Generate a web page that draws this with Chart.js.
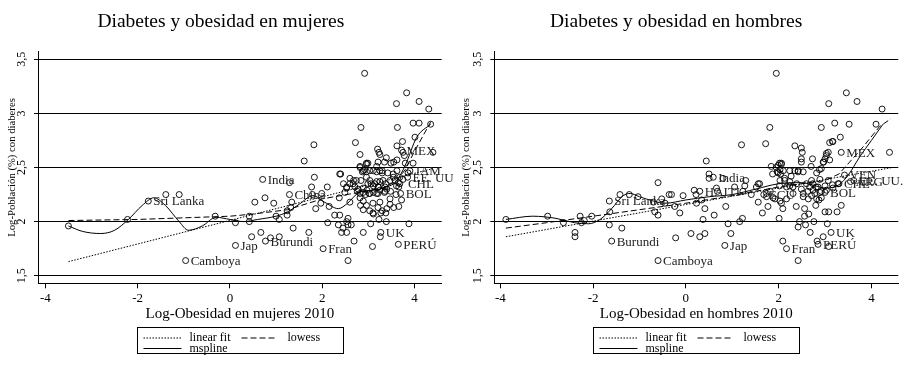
<!DOCTYPE html>
<html>
<head>
<meta charset="utf-8">
<script src="https://cdn.jsdelivr.net/npm/chart.js@4.4.0/dist/chart.umd.min.js"></script>
<style>
  body { margin: 0; background: #fff; }
  #wrap { position: relative; width: 909px; height: 368px; }
  #wrap canvas { position: absolute; top: 0; }
  #left { left: 0; }
  #right { left: 454px; }
</style>
</head>
<body>
<div id="wrap">
  <canvas id="left" width="454" height="368"></canvas>
  <canvas id="right" width="455" height="368"></canvas>
</div>
<script>
// ejes
const xTicks = [-4, -2, 0, 2, 4];
const yTicks = [1.5, 2, 2.5, 3, 3.5];
const yTickText = ['1,5', '2', '2,5', '3', '3,5'];
const yTitle = 'Log-Población (%) con diaberes';
const legendNames = ['linear fit', 'lowess', 'mspline'];

// mujeres: puntos (log-obesidad, log-diabetes)
const womenX = [-3.5,-2.22,-1.77,-1.39,-1.10,-0.32,-0.96,0.12,0.12,0.42,0.42,0.47,0.54,0.67,0.71,0.76,0.77,0.88,1.00,0.95,1.07,1.07,1.24,1.24,1.29,1.29,1.34,1.37,1.32,1.61,1.82,1.83,1.77,1.79,1.71,1.86,1.97,1.99,2.11,2.15,2.12,2.02,2.27,2.38,2.37,2.40,2.35,2.42,2.45,2.53,2.53,2.56,2.56,2.63,2.56,2.53,2.49,2.60,2.60,2.69,2.72,2.68,2.71,2.76,2.82,2.84,2.87,2.84,2.89,2.83,2.89,2.89,2.92,2.96,2.99,2.96,2.97,2.99,3.02,3.05,3.09,3.10,3.10,3.14,3.18,3.21,3.21,3.20,3.23,3.21,3.23,3.25,3.26,3.27,3.27,3.30,3.36,3.36,3.39,3.38,3.39,3.42,3.47,3.48,3.49,3.54,3.61,3.63,3.62,3.62,3.65,3.66,3.66,3.68,3.70,3.72,3.74,3.75,3.78,3.83,3.86,3.88,3.97,3.97,4.01,4.10,4.10,4.31,4.35,4.40,
  2.82,2.89,2.92,2.96,3.03,3.11,3.18,3.25,3.30,2.96,3.03,3.06,3.11,3.18,3.22,3.25,3.32,3.38,3.47,3.54,3.58,3.61,3.65,3.68,3.75,2.78,2.82,2.89,2.94,3.03,3.11,3.18,3.25,3.35,3.40,2.74,2.67,2.60,2.53,2.46,2.38,2.82,2.89,2.96,3.03,3.11,3.21,3.30,3.40,3.47,3.55,3.60,2.82,3.25,3.35,3.55,3.62,3.72,3.80,3.90,3.85];
const womenY = [1.96,2.02,2.19,2.25,2.25,2.05,1.64,1.99,1.78,2.00,2.05,1.86,2.18,1.90,2.39,2.22,1.82,1.85,2.05,2.17,1.86,2.02,2.06,2.10,2.25,2.36,2.18,1.94,2.13,2.56,2.71,2.41,2.32,2.25,1.90,2.12,2.17,2.26,2.32,2.14,1.99,1.75,2.06,2.06,2.22,2.44,1.97,1.90,1.94,1.90,2.00,1.97,2.03,1.97,1.64,2.31,2.27,2.35,2.18,1.82,2.73,2.38,2.32,2.28,2.51,2.87,2.46,2.38,2.31,2.15,2.11,1.90,3.37,2.54,2.54,2.46,2.29,2.35,2.26,1.98,1.77,2.08,2.17,2.35,2.46,2.32,2.26,2.67,2.64,2.55,2.02,2.18,1.86,1.90,2.08,2.45,2.32,2.28,2.59,2.08,2.00,2.45,2.21,2.28,2.54,2.41,3.09,2.87,2.70,2.57,1.79,2.14,2.32,2.41,2.26,2.20,2.74,2.64,2.61,3.19,2.45,1.98,2.91,2.54,2.78,2.91,3.11,3.04,2.90,2.64,
  2.50,2.47,2.48,2.53,2.47,2.47,2.51,2.47,2.47,2.41,2.38,2.35,2.33,2.37,2.32,2.37,2.38,2.35,2.38,2.44,2.38,2.33,2.36,2.35,2.39,2.30,2.26,2.27,2.25,2.26,2.27,2.26,2.29,2.27,2.30,2.38,2.35,2.40,2.32,2.35,2.44,2.22,2.19,2.15,2.10,2.07,2.13,2.10,2.12,2.16,2.13,2.25,2.62,2.62,2.55,2.55,2.47,2.66,2.54,2.47,2.41];

// mujeres: curvas ajustadas
const womenLinX = [-3.5, 4.4];
const womenLinY = [1.63, 2.49];
const womenLowX = [-3.5, -2, -1, 0, 0.5, 1.25, 2, 2.8, 3.3, 3.6, 3.8, 4.0, 4.35];
const womenLowY = [2.01, 2.02, 2.035, 2.05, 2.07, 2.11, 2.21, 2.27, 2.31, 2.37, 2.48, 2.65, 2.92];
const womenSplX = [-3.5, -3.2, -2.8, -2.5, -2.2, -1.9, -1.65, -1.4, -1.1, -0.9, -0.6, -0.3, 0, 0.3, 0.6, 1.0, 1.25, 1.5, 1.8, 2.05, 2.35, 2.55, 2.8, 3.1, 3.4, 3.6, 3.8, 4.05, 4.35];
const womenSplY = [1.96, 1.91, 1.89, 1.92, 2.02, 2.15, 2.22, 2.15, 2.00, 1.92, 1.96, 2.04, 2.02, 2.00, 2.02, 2.05, 2.09, 2.16, 2.24, 2.18, 2.12, 2.17, 2.27, 2.29, 2.32, 2.37, 2.52, 2.78, 2.90];

// mujeres: etiquetas de países
const womenLabelNames = ['Sri Lanka', 'India', 'China', 'Jap', 'Burundi', 'Camboya', 'Fran', 'UK', 'PERÚ', 'BOL', 'CHL', 'EE. UU.', 'JAM', 'MEX'];
const womenLabelX = [-1.77, 0.71, 1.29, 0.12, 0.77, -0.96, 2.02, 3.27, 3.65, 3.70, 3.75, 3.85, 3.90, 3.72];
const womenLabelY = [2.19, 2.39, 2.25, 1.78, 1.82, 1.64, 1.75, 1.90, 1.79, 2.26, 2.35, 2.41, 2.47, 2.66];

// hombres: puntos
const menX = [-3.88,-2.98,-2.64,-2.39,-2.39,-2.28,-2.25,-2.19,-2.03,-1.65,-1.64,-1.65,-1.60,-1.42,-1.38,-1.22,-1.03,-0.70,-0.67,-0.60,-0.60,-0.60,-0.52,-0.45,-0.36,-0.31,-0.24,-0.22,-0.13,-0.06,0.11,0.18,0.22,0.23,0.30,0.34,0.37,0.41,0.41,0.44,0.50,0.50,0.59,0.61,0.66,0.30,0.68,0.80,0.84,0.86,0.91,0.97,1.05,1.20,1.16,1.22,1.23,1.27,1.29,1.41,1.52,1.56,1.56,1.65,1.68,1.72,1.74,1.77,1.81,1.84,1.87,1.82,1.92,1.95,1.97,1.99,2.02,2.04,2.06,2.02,2.01,2.06,2.09,2.13,2.17,2.09,2.17,2.24,2.27,2.31,2.35,2.38,2.42,2.42,2.42,2.45,2.49,2.51,2.49,2.53,2.53,2.56,2.58,2.56,2.63,2.65,2.68,2.70,2.73,2.74,2.76,2.80,2.81,2.83,2.87,2.88,2.92,2.92,2.96,2.97,3.03,3.00,3.05,3.08,3.08,3.08,3.10,3.13,3.16,3.21,3.16,3.26,3.30,3.33,3.35,3.35,3.46,3.52,3.69,4.10,4.23,4.39,
  2.85,3.42,3.00,3.55,3.62,
  1.95,2.06,2.10,2.24,2.35,2.03,2.13,2.24,2.39,2.49,2.60,2.67,2.74,2.78,2.85,2.89,2.92,2.82,2.71,2.64,2.53,2.31,2.17,2.03,1.88,1.74,1.59,3.00,3.03,3.07,3.17,3.28,2.71,2.89,2.96,3.00,3.03,3.07,2.92,2.82,3.10,3.17,2.49,2.42,2.03,1.99];
const menY = [2.02,2.05,1.99,1.90,1.86,2.05,1.99,2.01,2.05,2.19,2.09,1.97,1.82,2.25,1.94,2.25,2.23,2.18,2.09,2.36,2.06,1.64,2.21,2.17,2.25,2.25,2.14,1.85,2.08,2.24,1.89,2.29,2.25,2.17,1.86,2.20,2.02,2.12,1.89,2.56,2.44,2.40,2.41,2.06,2.31,2.28,2.28,2.40,1.78,2.14,1.98,1.89,2.32,2.71,2.00,2.03,2.28,2.33,2.38,2.25,2.32,2.35,2.18,2.08,2.25,2.72,2.23,2.14,2.87,2.51,2.44,2.28,2.21,3.37,2.46,2.52,2.54,2.44,2.54,2.33,2.03,2.17,2.12,2.40,2.32,1.82,1.75,2.37,2.42,2.32,2.70,2.14,2.46,1.95,1.64,2.00,2.68,2.64,2.55,2.46,2.23,2.05,1.97,2.12,2.28,2.07,1.90,2.51,2.58,2.35,2.00,2.15,2.32,1.82,2.20,2.48,2.87,2.28,1.86,2.55,2.63,2.09,1.98,3.09,1.77,2.09,2.57,1.90,2.34,2.91,2.74,2.09,2.35,2.78,2.64,2.15,3.19,2.90,3.11,2.90,3.04,2.64,
  1.79,2.43,2.27,2.37,2.38,
  2.50,2.53,2.47,2.47,2.47,2.38,2.38,2.33,2.35,2.30,2.35,2.32,2.29,2.26,2.32,2.27,2.22,2.21,2.24,2.21,2.26,2.26,2.21,2.19,2.22,2.26,2.35,2.33,2.29,2.38,2.31,2.35,2.38,2.39,2.55,2.58,2.61,2.64,2.49,2.45,2.73,2.74,2.58,2.47,2.48,2.45];

// hombres: curvas ajustadas
const menLinX = [-3.88, 4.45];
const menLinY = [1.86, 2.50];
const menLowX = [-3.88, -3, -2, -1, 0, 1, 2, 2.5, 3.0, 3.3, 3.53, 3.8, 4.18, 4.42];
const menLowY = [1.94, 1.99, 2.05, 2.11, 2.17, 2.24, 2.32, 2.35, 2.38, 2.44, 2.55, 2.68, 2.88, 2.95];
const menSplX = [-3.88, -3.3, -2.8, -2.4, -2.1, -1.85, -1.6, -1.35, -1.2, -1.0, -0.7, -0.45, 0, 0.5, 1.0, 1.5, 2.0, 2.5, 2.8, 3.0, 3.3, 3.5, 3.75, 4.0, 4.25];
const menSplY = [2.02, 2.05, 2.03, 1.99, 1.98, 2.02, 2.12, 2.24, 2.26, 2.23, 2.19, 2.17, 2.20, 2.23, 2.25, 2.30, 2.35, 2.36, 2.33, 2.31, 2.34, 2.43, 2.60, 2.75, 2.90];

// hombres: etiquetas
const menLabelNames = ['Sri Lanka', 'Burundi', 'Camboya', 'India', 'HAITI', 'Jap', 'ECU', 'Fran', 'PERÚ', 'UK', 'BOL', 'CHL', 'VEN', 'ARG', 'EE. UU.', 'MEX'];
const menLabelX = [-1.65, -1.60, -0.60, 0.59, 0.30, 0.84, 1.68, 2.17, 2.85, 3.13, 3.00, 3.30, 3.42, 3.55, 3.62, 3.35];
const menLabelY = [2.19, 1.82, 1.64, 2.41, 2.28, 1.78, 2.25, 1.75, 1.79, 1.90, 2.27, 2.35, 2.43, 2.37, 2.38, 2.64];

const serif = '"Liberation Serif", "Times New Roman", serif';

function toPoints(xs, ys) {
    return xs.map((x, i) => ({ x: x, y: ys[i] }));
}

// etiquetas junto a los puntos
const labelPlugin = {
    id: 'countryLabels',
    afterDatasetsDraw(chart, args, opts) {
        const { ctx, scales: { x, y } } = chart;
        ctx.save();
        ctx.font = '13px ' + serif;
        ctx.fillStyle = '#222';
        ctx.textBaseline = 'middle';
        opts.names.forEach((n, i) => {
            ctx.fillText(n, x.getPixelForValue(opts.xs[i]) + 5, y.getPixelForValue(opts.ys[i]) + 1);
        });
        ctx.restore();
    }
};

// etiquetas del eje y giradas, y la leyenda en recuadro
const framePlugin = {
    id: 'frame',
    afterDraw(chart) {
        const { ctx, chartArea, scales: { y } } = chart;
        ctx.save();
        ctx.fillStyle = '#000';
        ctx.font = '12px ' + serif;
        ctx.textAlign = 'center';
        ctx.textBaseline = 'middle';
        yTicks.forEach((v, i) => {
            ctx.save();
            ctx.translate(chartArea.left - 16, y.getPixelForValue(v));
            ctx.rotate(-Math.PI / 2);
            ctx.fillText(yTickText[i], 0, 0);
            ctx.restore();
        });

        const bx = Math.round((chartArea.left + chartArea.right) / 2 - 103) + 0.5;
        const by = 327.5;
        ctx.strokeStyle = '#000';
        ctx.lineWidth = 1;
        ctx.strokeRect(bx, by, 206, 26);
        const r1 = by + 10.5, r2 = by + 21;
        const sample = (x0, x1, yy, dash) => {
            ctx.setLineDash(dash);
            ctx.beginPath();
            ctx.moveTo(x0, yy);
            ctx.lineTo(x1, yy);
            ctx.stroke();
        };
        sample(bx + 6, bx + 44, r1, [1.5, 1.5]);
        sample(bx + 104, bx + 140, r1, [6, 3]);
        sample(bx + 6, bx + 44, r2, []);
        ctx.setLineDash([]);
        ctx.textAlign = 'left';
        ctx.font = '12px ' + serif;
        ctx.fillText(legendNames[0], bx + 52, r1);
        ctx.fillText(legendNames[1], bx + 150, r1);
        ctx.fillText(legendNames[2], bx + 52, r2);
        ctx.restore();
    }
};

function makeChart(id, cfg) {
    const ctx = document.getElementById(id).getContext('2d');
    return new Chart(ctx, {
        type: 'scatter',
        data: {
            datasets: [
                {
                    data: toPoints(cfg.px, cfg.py),
                    pointStyle: 'circle',
                    pointRadius: 3,
                    borderWidth: 0.9,
                    borderColor: '#000',
                    backgroundColor: 'rgba(0,0,0,0)'
                },
                {
                    type: 'line',
                    data: toPoints(cfg.linX, cfg.linY),
                    borderColor: '#000',
                    borderWidth: 1,
                    borderDash: [1.5, 1.5],
                    pointRadius: 0,
                    fill: false
                },
                {
                    type: 'line',
                    data: toPoints(cfg.lowX, cfg.lowY),
                    borderColor: '#000',
                    borderWidth: 1,
                    borderDash: [6, 3],
                    pointRadius: 0,
                    fill: false
                },
                {
                    type: 'line',
                    data: toPoints(cfg.splX, cfg.splY),
                    borderColor: '#000',
                    borderWidth: 1,
                    cubicInterpolationMode: 'monotone',
                    pointRadius: 0,
                    fill: false
                }
            ]
        },
        options: {
            responsive: false,
            animation: false,
            devicePixelRatio: 1,
            layout: { padding: { left: 0, top: 0, right: cfg.padRight, bottom: 45 } },
            plugins: {
                legend: { display: false },
                tooltip: { enabled: false },
                title: {
                    display: true,
                    text: cfg.title,
                    color: '#000',
                    font: { family: serif, size: 19.5, weight: 'normal' },
                    padding: { top: 10.5, bottom: 17.8 }
                },
                countryLabels: { names: cfg.labNames, xs: cfg.labX, ys: cfg.labY }
            },
            scales: {
                x: {
                    type: 'linear',
                    min: cfg.xMin,
                    max: cfg.xMax,
                    afterBuildTicks: s => { s.ticks = xTicks.map(v => ({ value: v })); },
                    afterFit: s => { s.height = 39.7; },
                    grid: { drawOnChartArea: false, drawTicks: true, tickLength: 5, color: '#000' },
                    border: { color: '#000', width: 1 },
                    ticks: { color: '#000', font: { family: serif, size: 13 }, padding: 2, maxRotation: 0, callback: v => String(v) },
                    title: { display: true, text: cfg.xTitle, color: '#000', font: { family: serif, size: 15 }, padding: { top: 0, bottom: 0 } }
                },
                y: {
                    type: 'linear',
                    min: 1.43,
                    max: 3.57,
                    afterBuildTicks: s => { s.ticks = yTicks.map(v => ({ value: v })); },
                    afterFit: s => { s.width = cfg.axisLeft; },
                    grid: { color: '#000', drawTicks: true, tickLength: 4 },
                    border: { color: '#000', width: 1 },
                    ticks: { display: false },
                    title: { display: true, text: yTitle, color: '#000', font: { family: serif, size: 10.7 }, padding: { top: 6, bottom: 0 } }
                }
            }
        },
        plugins: [labelPlugin, framePlugin]
    });
}

makeChart('left', {
    title: 'Diabetes y obesidad en mujeres',
    xTitle: 'Log-Obesidad en mujeres 2010',
    px: womenX, py: womenY,
    linX: womenLinX, linY: womenLinY,
    lowX: womenLowX, lowY: womenLowY,
    splX: womenSplX, splY: womenSplY,
    labNames: womenLabelNames, labX: womenLabelX, labY: womenLabelY,
    xMin: -4.16, xMax: 4.59, axisLeft: 38, padRight: 12.3
});

makeChart('right', {
    title: 'Diabetes y obesidad en hombres',
    xTitle: 'Log-Obesidad en hombres 2010',
    px: menX, py: menY,
    linX: menLinX, linY: menLinY,
    lowX: menLowX, lowY: menLowY,
    splX: menSplX, splY: menSplY,
    labNames: menLabelNames, labX: menLabelX, labY: menLabelY,
    xMin: -4.13, xMax: 4.58, axisLeft: 40.3, padRight: 10.7
});
</script>
</body>
</html>
